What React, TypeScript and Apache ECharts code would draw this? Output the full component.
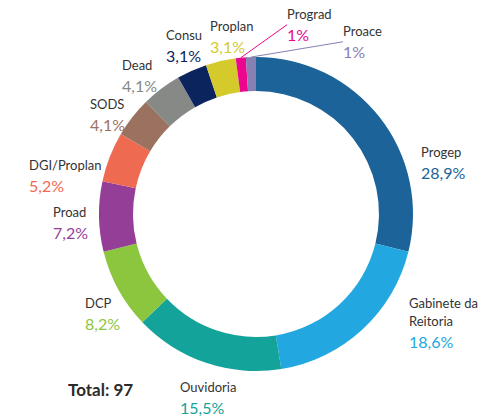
import React, { useEffect, useRef } from "react";
import * as echarts from "echarts";

const categories = [
  "Progep",
  "Gabinete da\nReitoria",
  "Ouvidoria",
  "DCP",
  "Proad",
  "DGI/Proplan",
  "SODS",
  "Dead",
  "Consu",
  "Proplan",
  "Prograd",
  "Proace",
];
const counts = [28, 18, 15, 8, 7, 5, 4, 4, 3, 3, 1, 1];
const colors = [
  "#1b6399",
  "#22a7e0",
  "#13a39a",
  "#8cc63f",
  "#953e98",
  "#ee6b52",
  "#9b725f",
  "#868986",
  "#0b245e",
  "#d5ca2b",
  "#ec068d",
  "#8681b2",
];
// label anchor (left, top) positions for layout
const labelPos: [number, number][] = [
  [421, 143],
  [409, 294],
  [180, 378],
  [85, 294],
  [53, 203],
  [29, 156],
  [90, 95],
  [122, 56],
  [166, 26],
  [210, 17],
  [287, 5],
  [343, 22],
];
const withLine = [false, false, false, false, false, false, false, false, false, false, true, true];

const FONT = "Lato, 'Open Sans', sans-serif";

export default function App() {
  const ref = useRef<HTMLDivElement>(null);
  useEffect(() => {
    document.body.style.margin = "0";
    if (!ref.current) return;
    const chart = echarts.init(ref.current, undefined, { renderer: "svg" });
    const total = counts.reduce((a, b) => a + b, 0);
    const fmtPct = (v: number) => {
      const r = Math.round((v / total) * 1000) / 10;
      return String(r).replace(".", ",") + "%";
    };
    chart.setOption({
      animation: false,
      graphic: [
        {
          type: "text",
          left: 68,
          top: 381,
          style: {
            text: "Total: " + total,
            font: `bold 17px ${FONT}`,
            fill: "#2b2b2b",
          },
        },
      ],
      series: [
        {
          type: "pie",
          center: [256, 214],
          radius: [123, 157],
          startAngle: 90,
          clockwise: true,
          avoidLabelOverlap: false,
          itemStyle: { borderWidth: 0 },
          emphasis: { disabled: true },
          label: {
            show: true,
            position: "outside",
            fontFamily: FONT,
            formatter: (p: any) => {
              const lines = String(p.name)
                .split("\n")
                .map((l: string) => `{n|${l}}`)
                .join("\n");
              return `${lines}\n{p|${fmtPct(p.value)}}`;
            },
          },
          labelLine: { show: false },
          labelLayout: (params: any) => {
            const pos = labelPos[params.dataIndex];
            return { x: pos[0], y: pos[1], align: "left", verticalAlign: "top" };
          },
          data: categories.map((name, i) => ({
            name,
            value: counts[i],
            itemStyle: { color: colors[i] },
            labelLine: withLine[i]
              ? { show: true, length: 10, length2: 0, lineStyle: { color: colors[i], width: 1 } }
              : { show: false },
            label: {
              rich: {
                n: { fontFamily: FONT, fontSize: 13, color: "#333333", lineHeight: 18 },
                p: { fontFamily: FONT, fontSize: 16, color: colors[i], lineHeight: 22 },
              },
            },
          })),
        },
      ],
    });
    return () => chart.dispose();
  }, []);
  return <div ref={ref} style={{ width: 482, height: 417 }} />;
}
